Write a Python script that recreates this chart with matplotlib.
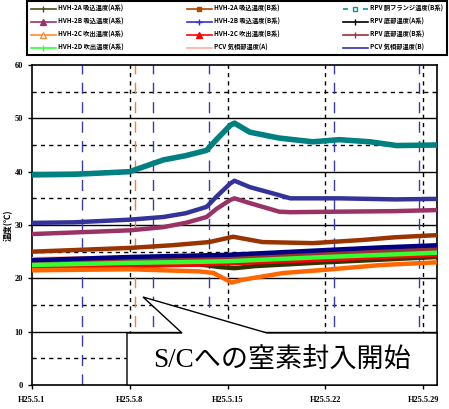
import matplotlib.pyplot as plt
from matplotlib.lines import Line2D
from matplotlib.patches import Polygon
import numpy as np

plt.rcParams['font.family'] = ['Noto Sans CJK JP', 'DejaVu Sans']

# days since H25.5.1
tick_days = [0, 7, 14, 21, 28]
tick_labels = ['H25.5.1', 'H25.5.8', 'H25.5.15', 'H25.5.22', 'H25.5.29']

# temperature readings (deg C), key points
teal_x = [0, 3, 7, 9.4, 11, 12.5, 13.2, 14.2, 14.5, 15.6, 17.7, 20.1, 22, 24.2, 26.1, 29]
teal_y = [39.4, 39.5, 40.0, 42.2, 43.0, 44.0, 46.0, 48.7, 49.1, 47.4, 46.3, 45.6, 46.0, 45.6, 44.9, 45.0]

blue_x = [0, 3, 7, 9.4, 11, 12.5, 13.2, 14.2, 14.5, 15.6, 17.7, 18.5, 22, 26, 29]
blue_y = [30.4, 30.5, 31.0, 31.5, 32.2, 33.4, 35.3, 37.8, 38.3, 37.1, 35.6, 35.0, 35.0, 34.8, 34.9]

purple_x = [0, 3, 7, 9.4, 11, 12.5, 13.2, 14.2, 14.5, 15.6, 17.7, 18.5, 22, 26, 29]
purple_y = [28.3, 28.6, 29.0, 29.6, 30.4, 31.5, 33.0, 34.7, 35.0, 34.1, 32.5, 32.4, 32.5, 32.6, 32.8]

brown_x = [0, 3, 7, 10, 12.7, 14.4, 16.5, 20.1, 23.7, 26, 29]
brown_y = [25.0, 25.3, 25.7, 26.2, 26.8, 27.8, 26.8, 26.6, 27.2, 27.7, 28.1]

navy_x = [0, 7, 12, 14, 21, 25, 29]
navy_y = [23.4, 24.0, 24.3, 24.4, 25.3, 25.8, 26.2]

black_x = [0, 7, 12, 14, 21, 25, 29]
black_y = [23.2, 23.6, 23.8, 24.0, 24.7, 25.2, 25.6]

darkred_x = [0, 7, 12, 14, 21, 25, 29]
darkred_y = [23.0, 23.4, 23.6, 23.8, 24.6, 25.1, 25.5]

pink_x = [0, 7, 12, 14, 21, 25, 29]
pink_y = [23.6, 23.9, 24.1, 24.2, 24.6, 25.0, 25.3]

green_x = [0, 7, 12, 14, 21, 25, 29]
green_y = [22.5, 22.9, 23.1, 23.2, 24.0, 24.4, 24.8]

red_x = [0, 7, 12, 14, 21, 25, 29]
red_y = [22.0, 22.3, 22.6, 22.8, 23.5, 24.0, 24.4]

olive_x = [0, 7, 12, 13.5, 14.5, 16, 21, 25, 29]
olive_y = [22.3, 22.5, 22.6, 22.1, 21.9, 22.3, 23.0, 23.5, 24.0]

orange_x = [0, 7, 12, 13, 14.3, 15, 18, 21, 25, 29]
orange_y = [21.5, 21.7, 21.3, 21.0, 19.2, 19.7, 21.0, 21.6, 22.5, 23.0]

blue_events = [3.6, 8.7, 12.7, 21.6, 27.7]
orange_event = 7.4

labels = ['HVH-2A 吸込温度(A系)', 'HVH-2B 吸込温度(A系)', 'HVH-2C 吹出温度(A系)', 'HVH-2D 吹出温度(A系)',
          'HVH-2A 吸込温度(B系)', 'HVH-2B 吸込温度(B系)', 'HVH-2C 吹出温度(B系)', 'PCV 気相部温度(A)',
          'RPV 胴フランジ温度(B系)', 'RPV 底部温度(A系)', 'RPV 底部温度(B系)', 'PCV 気相部温度(B)']

fig = plt.figure(figsize=(4.49, 4.09), dpi=100)
ax = fig.add_axes([32 / 449, 1 - 385 / 409, 405 / 449, 320 / 409])

ax.set_xlim(0, 29)
ax.set_ylim(0, 60)

# grid
for v in range(10, 60, 10):
    ax.axhline(v, color='black', lw=1.0, zorder=1)
for v in range(5, 60, 10):
    ax.axhline(v, color='black', lw=1.0, ls=(0, (3, 3)), zorder=1)
for d in tick_days[1:]:
    ax.axvline(d, color='black', lw=1.0, ls=(0, (3, 3)), zorder=1)
for d in blue_events:
    ax.axvline(d, color='#3b3bb0', lw=1.0, ls=(0, (8, 6)), zorder=1)
ax.axvline(orange_event, color='#ff7f1f', lw=1.0, ls=(0, (8, 6)), zorder=1)

lw = 3.2
ax.plot(teal_x, teal_y, color='#008080', lw=lw + 0.8, zorder=3)
ax.plot(blue_x, blue_y, color='#333399', lw=lw, zorder=3)
ax.plot(purple_x, purple_y, color='#993366', lw=lw, zorder=3)
ax.plot(brown_x, brown_y, color='#993300', lw=lw, zorder=3)
ax.plot(pink_x, pink_y, color='#ff9999', lw=lw, zorder=3)
ax.plot(black_x, black_y, color='#111111', lw=lw, zorder=3)
ax.plot(darkred_x, darkred_y, color='#993333', lw=lw, zorder=3)
ax.plot(navy_x, navy_y, color='#000080', lw=lw, zorder=3)
ax.plot(olive_x, olive_y, color='#333300', lw=lw, zorder=3)
ax.plot(red_x, red_y, color='#ff0000', lw=lw, zorder=3)
ax.plot(green_x, green_y, color='#33ff33', lw=lw, zorder=3)
ax.plot(orange_x, orange_y, color='#ff6600', lw=lw, zorder=3)

ax.set_xticks(tick_days)
ax.set_xticklabels(tick_labels)
ax.set_yticks(range(0, 61, 10))
ax.tick_params(labelsize=6, length=3, width=1)
for t in ax.get_xticklabels() + ax.get_yticklabels():
    t.set_fontweight('bold')
    t.set_family(['Liberation Serif', 'DejaVu Serif'])
ax.tick_params(axis='x', pad=5)
for s in ax.spines.values():
    s.set_linewidth(1.2)
ax.set_ylabel('温度(℃)', fontsize=6, fontweight='bold', labelpad=1)

# callout box
bx0, bx1, by0, by1 = 127, 437, 333, 385
tip = (143, 297)
pts = [(bx0, by0), (182, by0), tip, (267, by0), (bx1, by0), (bx1, by1), (bx0, by1)]
pts_ax = [((px - 32) / 405, (385 - py) / 320) for px, py in pts]
ax.add_patch(Polygon(pts_ax, closed=True, facecolor='white', edgecolor='black',
                     lw=1.0, transform=ax.transAxes, zorder=6, clip_on=False))
ax.text(((bx0 + bx1) / 2 - 32) / 405, (385 - 361) / 320, 'S/Cへの窒素封入開始',
        transform=ax.transAxes, ha='center', va='center', fontsize=19.5,
        family=['Liberation Serif', 'Noto Sans CJK JP'], zorder=7)

# legend
styles = [
    dict(color='#4d4d1a', marker='|', ms=5, mfc='#4d4d1a'),
    dict(color='#993366', marker='^', ms=4),
    dict(color='#ff8c33', marker='^', ms=4, mfc='white'),
    dict(color='#33ff33', marker='|', ms=4),
    dict(color='#b34700', marker='s', ms=3),
    dict(color='#3333cc', marker='+', ms=4),
    dict(color='#ff0000', marker='^', ms=4),
    dict(color='#ffaaaa'),
    dict(color='#009999', marker='s', ms=3, mfc='white', ls=(0, (3, 3))),
    dict(color='#000000', marker='|', ms=4),
    dict(color='#993333', marker='|', ms=5),
    dict(color='#3333aa'),
]
handles = [Line2D([], [], lw=1.2, **st) for st in styles]
leg = fig.legend(handles, labels, ncol=3, loc='lower left',
                 bbox_to_anchor=(27 / 449, 1 - 55 / 409, 420 / 449, 50 / 409),
                 mode='expand', fontsize=4.5, handlelength=4.0, handletextpad=0.4,
                 labelspacing=0.9, borderaxespad=0, fancybox=False, framealpha=1,
                 edgecolor='black', borderpad=0.6)
leg.get_frame().set_linewidth(1.5)
for t in leg.get_texts():
    t.set_fontweight('bold')

fig.savefig('out.png', dpi=100)
